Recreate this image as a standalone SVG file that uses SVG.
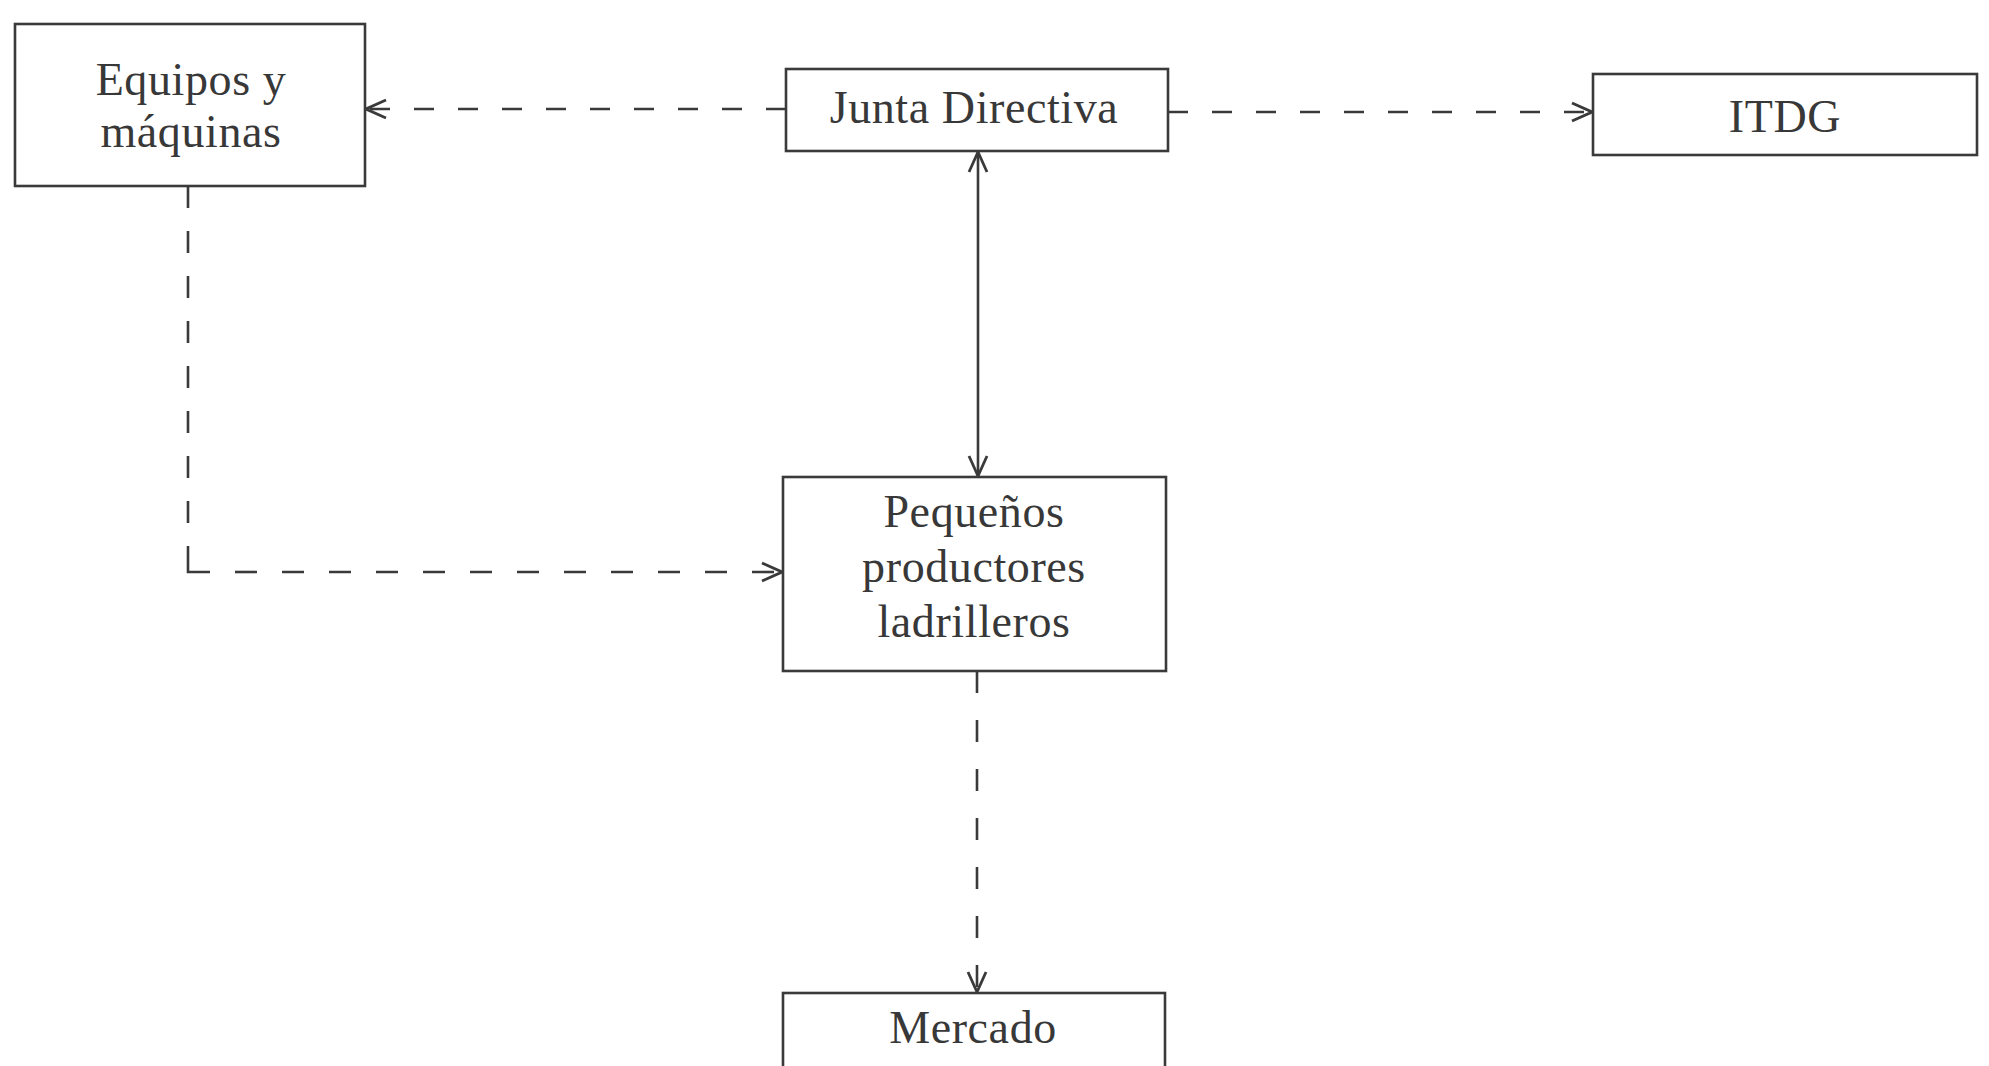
<svg xmlns="http://www.w3.org/2000/svg" width="1989" height="1066" viewBox="0 0 1989 1066">
  <style>
    .box { fill: #ffffff; stroke: #3a3a3a; stroke-width: 2.6; }
    .label { font-family: "Liberation Serif", "Times New Roman", serif; font-size: 46px; letter-spacing: 0.6px; fill: #383838; text-anchor: middle; }
    .link { fill: none; stroke: #3a3a3a; stroke-width: 2.6; }
    .dash { stroke-dasharray: 20 24; }
    .dash-v { stroke-dasharray: 22 23; }
    .dash-h { stroke-dasharray: 22 25; }
    .dash-m { stroke-dasharray: 22 27; }
  </style>
  <defs>
    <marker id="chev" viewBox="0 0 24 24" refX="22" refY="12" markerWidth="24" markerHeight="24" markerUnits="userSpaceOnUse" orient="auto-start-reverse">
      <path d="M2,3 L22,12 L2,21" fill="none" stroke="#3a3a3a" stroke-width="2.8" stroke-dasharray="none" stroke-linejoin="miter"/>
    </marker>
  </defs>

  <rect width="1989" height="1066" fill="#ffffff"/>

  <!-- connectors -->
  <g id="connectors">
    <path id="junta-equipos" class="link dash" d="M786,109 H366" marker-end="url(#chev)"/>
    <path id="junta-itdg" class="link dash" d="M1168,112 H1592" marker-end="url(#chev)"/>
    <path id="junta-pequenos" class="link" d="M978,152 V476" marker-start="url(#chev)" marker-end="url(#chev)"/>
    <g id="equipos-pequenos">
      <path class="link dash-v" d="M188,186 V546"/>
      <path class="link" d="M188,546 V572 H210"/>
      <path class="link dash-h" d="M235,572 H782" marker-end="url(#chev)"/>
    </g>
    <path id="pequenos-mercado" class="link dash-m" d="M977,671 V992" marker-end="url(#chev)"/>
  </g>

  <!-- nodes -->
  <g id="equipos">
    <rect class="box" x="15" y="24" width="350" height="162"/>
    <text class="label" x="191" y="95">Equipos y</text>
    <text class="label" x="191" y="147">máquinas</text>
  </g>

  <g id="junta">
    <rect class="box" x="786" y="69" width="382" height="82"/>
    <text class="label" x="974" y="123">Junta Directiva</text>
  </g>

  <g id="itdg">
    <rect class="box" x="1593" y="74" width="384" height="81"/>
    <text class="label" x="1785" y="132" letter-spacing="-1">ITDG</text>
  </g>

  <g id="pequenos">
    <rect class="box" x="783" y="477" width="383" height="194"/>
    <text class="label" x="974" y="527">Pequeños</text>
    <text class="label" x="974" y="582">productores</text>
    <text class="label" x="974" y="637">ladrilleros</text>
  </g>

  <g id="mercado">
    <rect class="box" x="783" y="993" width="382" height="90"/>
    <text class="label" x="973" y="1043">Mercado</text>
  </g>
</svg>
